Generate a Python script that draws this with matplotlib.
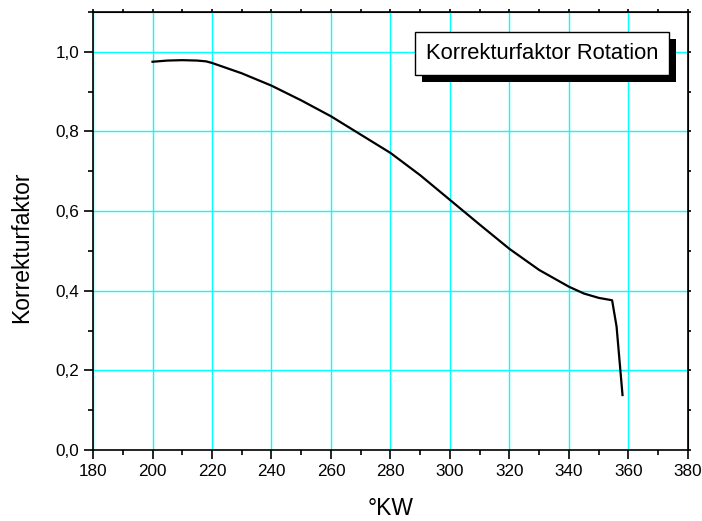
import numpy as np
import matplotlib.pyplot as plt
import matplotlib.patheffects as pe
from matplotlib.ticker import MultipleLocator, FuncFormatter

plt.rcParams['font.family'] = ['Liberation Sans', 'DejaVu Sans']

# Kurbelwinkel und Korrekturfaktor
kw = [200, 205, 210, 215, 218, 220, 230, 240, 250, 260, 270, 280, 290,
      300, 310, 320, 330, 340, 345, 350, 354.5, 356, 358]
faktor = [0.975, 0.978, 0.979, 0.978, 0.976, 0.972, 0.946, 0.915, 0.878,
          0.838, 0.792, 0.746, 0.690, 0.628, 0.566, 0.505, 0.452, 0.410,
          0.393, 0.382, 0.376, 0.310, 0.138]

fig = plt.figure(figsize=(7.02, 5.21), dpi=100)
ax = fig.add_axes([0.1325, 0.1363, 0.8475, 0.8407])

ax.plot(kw, faktor, color='black', lw=1.6)

ax.set_xlim(180, 380)
ax.set_ylim(0, 1.1)
ax.xaxis.set_major_locator(MultipleLocator(20))
ax.xaxis.set_minor_locator(MultipleLocator(10))
ax.yaxis.set_major_locator(MultipleLocator(0.2))
ax.yaxis.set_minor_locator(MultipleLocator(0.1))
ax.yaxis.set_major_formatter(FuncFormatter(lambda v, p: f'{v:.1f}'.replace('.', ',')))

ax.grid(True, which='major', color='#00ffff', lw=1.0)
ax.set_axisbelow(True)

for s in ax.spines.values():
    s.set_linewidth(1.2)

ax.tick_params(which='both', direction='out', width=1.2, labelsize=12.3)
ax.tick_params(which='major', length=6.5)
ax.tick_params(which='minor', length=3.6)

# kleine Ticks oben und rechts ohne Beschriftung
top = ax.secondary_xaxis('top')
top.xaxis.set_major_locator(MultipleLocator(20))
top.xaxis.set_minor_locator(MultipleLocator(10))
top.tick_params(which='both', direction='out', width=1.2, length=2, labeltop=False)
right = ax.secondary_yaxis('right')
right.yaxis.set_major_locator(MultipleLocator(0.2))
right.yaxis.set_minor_locator(MultipleLocator(0.1))
right.tick_params(which='both', direction='out', width=1.2, length=2.5, labelright=False)

ax.set_xlabel('°KW', fontsize=16.5, labelpad=13)
ax.set_ylabel('Korrekturfaktor', fontsize=16.5)
ax.yaxis.set_label_coords(-0.1, 0.463)

t = ax.text(0.755, 0.906, 'Korrekturfaktor Rotation', transform=ax.transAxes,
            ha='center', va='center', fontsize=15.8, zorder=5,
            bbox=dict(boxstyle='square,pad=0.5', fc='white', ec='black', lw=1.0))
t.get_bbox_patch().set_path_effects([
    pe.SimplePatchShadow(offset=(5, -5), shadow_rgbFace='black', alpha=1.0),
    pe.Normal()])

fig.savefig('out.png', dpi=100)
